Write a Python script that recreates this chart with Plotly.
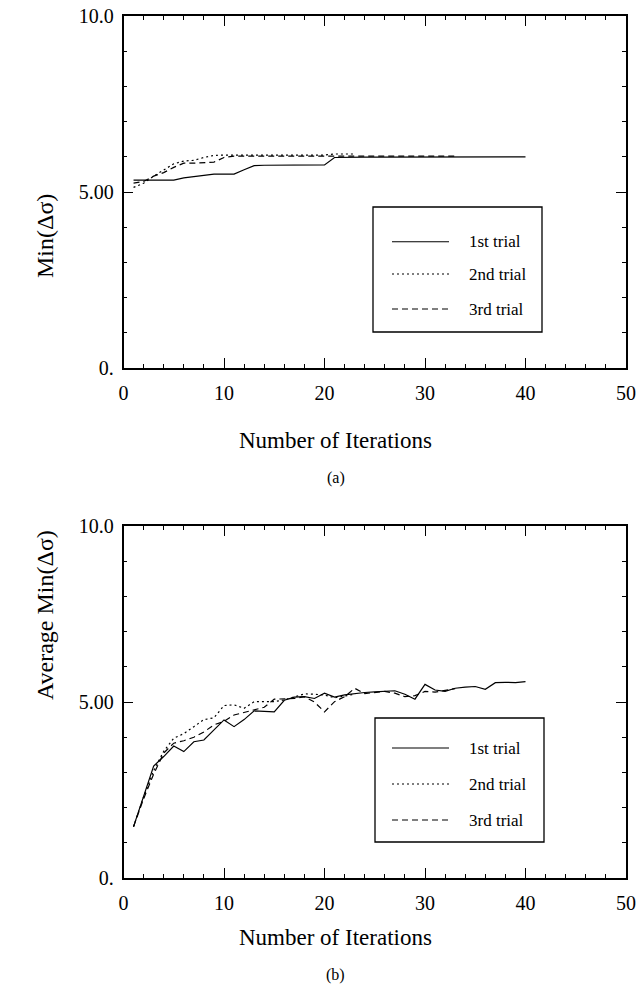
import plotly.graph_objects as go

# top panel (a): Min(delta sigma) per iteration
it_a1 = list(range(1, 41))
a1 = [5.34, 5.34, 5.34, 5.34, 5.34, 5.40, 5.44, 5.46, 5.51, 5.51,
      5.51, 5.63, 5.75, 5.76, 5.76, 5.76, 5.76, 5.76, 5.76, 5.77,
      5.98, 5.99, 5.99, 5.99, 5.99, 5.99, 5.99, 6.00, 6.00, 6.00,
      6.00, 6.00, 6.00, 6.00, 6.00, 6.00, 6.00, 6.00, 6.00, 6.00]
it_a2 = list(range(1, 24))
a2 = [5.13, 5.25, 5.45, 5.62, 5.80, 5.88, 5.90, 5.98, 6.04, 6.05,
      6.05, 6.05, 6.05, 6.05, 6.05, 6.05, 6.05, 6.05, 6.05, 6.05,
      6.08, 6.08, 6.08]
it_a3 = list(range(1, 34))
a3 = [5.25, 5.30, 5.45, 5.55, 5.70, 5.82, 5.82, 5.83, 5.85, 5.98,
      6.02, 6.02, 6.02, 6.02, 6.02, 6.02, 6.02, 6.02, 6.02, 6.02,
      6.02, 6.02, 6.02, 6.02, 6.02, 6.02, 6.02, 6.02, 6.02, 6.02,
      6.02, 6.02, 6.02]

# bottom panel (b): Average Min(delta sigma) per iteration
it_b1 = list(range(1, 41))
b1 = [1.46, 2.35, 3.18, 3.45, 3.75, 3.59, 3.87, 3.92, 4.22, 4.49,
      4.30, 4.50, 4.75, 4.74, 4.72, 5.05, 5.14, 5.15, 5.10, 5.25,
      5.14, 5.20, 5.24, 5.27, 5.29, 5.31, 5.32, 5.22, 5.08, 5.50,
      5.34, 5.30, 5.39, 5.42, 5.44, 5.36, 5.55, 5.56, 5.55, 5.58]
it_b2 = list(range(1, 24))
b2 = [1.46, 2.30, 3.05, 3.60, 3.97, 4.10, 4.30, 4.50, 4.55, 4.90,
      4.92, 4.82, 5.01, 5.02, 5.01, 5.06, 5.15, 5.23, 5.22, 5.20,
      5.12, 5.18, 5.22]
it_b3 = list(range(1, 34))
b3 = [1.46, 2.25, 2.95, 3.55, 3.83, 3.90, 4.00, 4.15, 4.35, 4.45,
      4.63, 4.70, 4.77, 4.85, 5.08, 5.10, 5.10, 5.15, 5.00, 4.72,
      5.01, 5.15, 5.39, 5.24, 5.28, 5.30, 5.25, 5.15, 5.18, 5.30,
      5.28, 5.33, 5.38]

names = ['1st trial', '2nd trial', '3rd trial']
dashes = ['solid', '2px,3px', '6px,4px']

FONT = 'Liberation Serif'
W, H = 642, 1002


def px(x):
    return x / W


def py(y):
    return 1 - y / H


fig = go.Figure()

for i, (x, y) in enumerate([(it_a1, a1), (it_a2, a2), (it_a3, a3)]):
    fig.add_trace(go.Scatter(x=x, y=y, mode='lines', name=names[i],
                             line=dict(color='black', width=1.2, dash=dashes[i]),
                             xaxis='x', yaxis='y'))

for i, (x, y) in enumerate([(it_b1, b1), (it_b2, b2), (it_b3, b3)]):
    fig.add_trace(go.Scatter(x=x, y=y, mode='lines', name=names[i],
                             line=dict(color='black', width=1.2, dash=dashes[i]),
                             xaxis='x2', yaxis='y2'))

xax = dict(range=[0, 50], tickvals=[0, 10, 20, 30, 40, 50], automargin=False,
           ticks='inside', ticklen=10, tickwidth=1.2, tickcolor='black',
           minor=dict(dtick=2, ticks='inside', ticklen=4, tickcolor='black'),
           showline=True, linecolor='black', linewidth=1.5, mirror='allticks',
           showgrid=False, zeroline=False, ticklabelstandoff=6,
           ticklabeloverflow='allow',
           tickfont=dict(family=FONT, size=20, color='black'))
yax = dict(range=[0, 10], tickvals=[0, 5, 10], ticktext=['0.', '5.00', '10.0'],
           automargin=False,
           ticks='inside', ticklen=10, tickwidth=1.2, tickcolor='black',
           minor=dict(dtick=1, ticks='inside', ticklen=4, tickcolor='black'),
           showline=True, linecolor='black', linewidth=1.5, mirror='allticks',
           showgrid=False, zeroline=False, ticklabelstandoff=4,
           ticklabeloverflow='allow',
           tickfont=dict(family=FONT, size=20, color='black'))

fig.update_layout(
    width=W, height=H,
    margin=dict(l=0, r=0, t=0, b=0),
    paper_bgcolor='white', plot_bgcolor='white',
    showlegend=False,
    xaxis=dict(xax, domain=[px(123.5), px(626)], anchor='y'),
    yaxis=dict(yax, domain=[py(368), py(16)], anchor='x'),
    xaxis2=dict(xax, domain=[px(123.5), px(626)], anchor='y2'),
    yaxis2=dict(yax, domain=[py(878), py(526)], anchor='x2'),
)


# legend boxes drawn in paper space
def legend_box(left, top, right, bottom, rows):
    fig.add_shape(type='rect', xref='paper', yref='paper',
                  x0=px(left), x1=px(right), y0=py(bottom), y1=py(top),
                  line=dict(color='black', width=1.3), fillcolor='white', layer='above')
    for i, ry in enumerate(rows):
        fig.add_shape(type='line', xref='paper', yref='paper',
                      x0=px(392), x1=px(449), y0=py(ry), y1=py(ry),
                      line=dict(color='black', width=1.1, dash=dashes[i]), layer='above')
        fig.add_annotation(text=names[i], x=px(467), y=py(ry), xref='paper', yref='paper',
                           xanchor='left', yanchor='middle', showarrow=False,
                           font=dict(family=FONT, size=17, color='black'))


legend_box(373, 207, 542, 332, [241.7, 274, 309])
legend_box(375, 718, 544, 842, [748, 784, 820])

ann = [
    dict(text='Number of Iterations', y=440, size=23),
    dict(text='(a)', y=478, size=16),
    dict(text='Number of Iterations', y=952, size=23),
    dict(text='(b)', y=986, size=16),
]
for a in ann:
    fig.add_annotation(text=a['text'], x=px(336), y=py(a['y']), xref='paper', yref='paper',
                       showarrow=False, font=dict(family=FONT, size=a['size'], color='black'))

fig.add_annotation(text='Min(Δσ)', x=px(30), y=py(192), xref='paper', yref='paper',
                   textangle=-90, showarrow=False,
                   font=dict(family=FONT, size=24, color='black'))
fig.add_annotation(text='Average Min(Δσ)', x=px(30), y=py(702), xref='paper', yref='paper',
                   textangle=-90, showarrow=False,
                   font=dict(family=FONT, size=24, color='black'))

# drop the default body margin so the 642x1002 figure fills the window exactly
fig.write_html('out.html', config={'displayModeBar': False},
               post_script="document.body.style.margin='0';")
